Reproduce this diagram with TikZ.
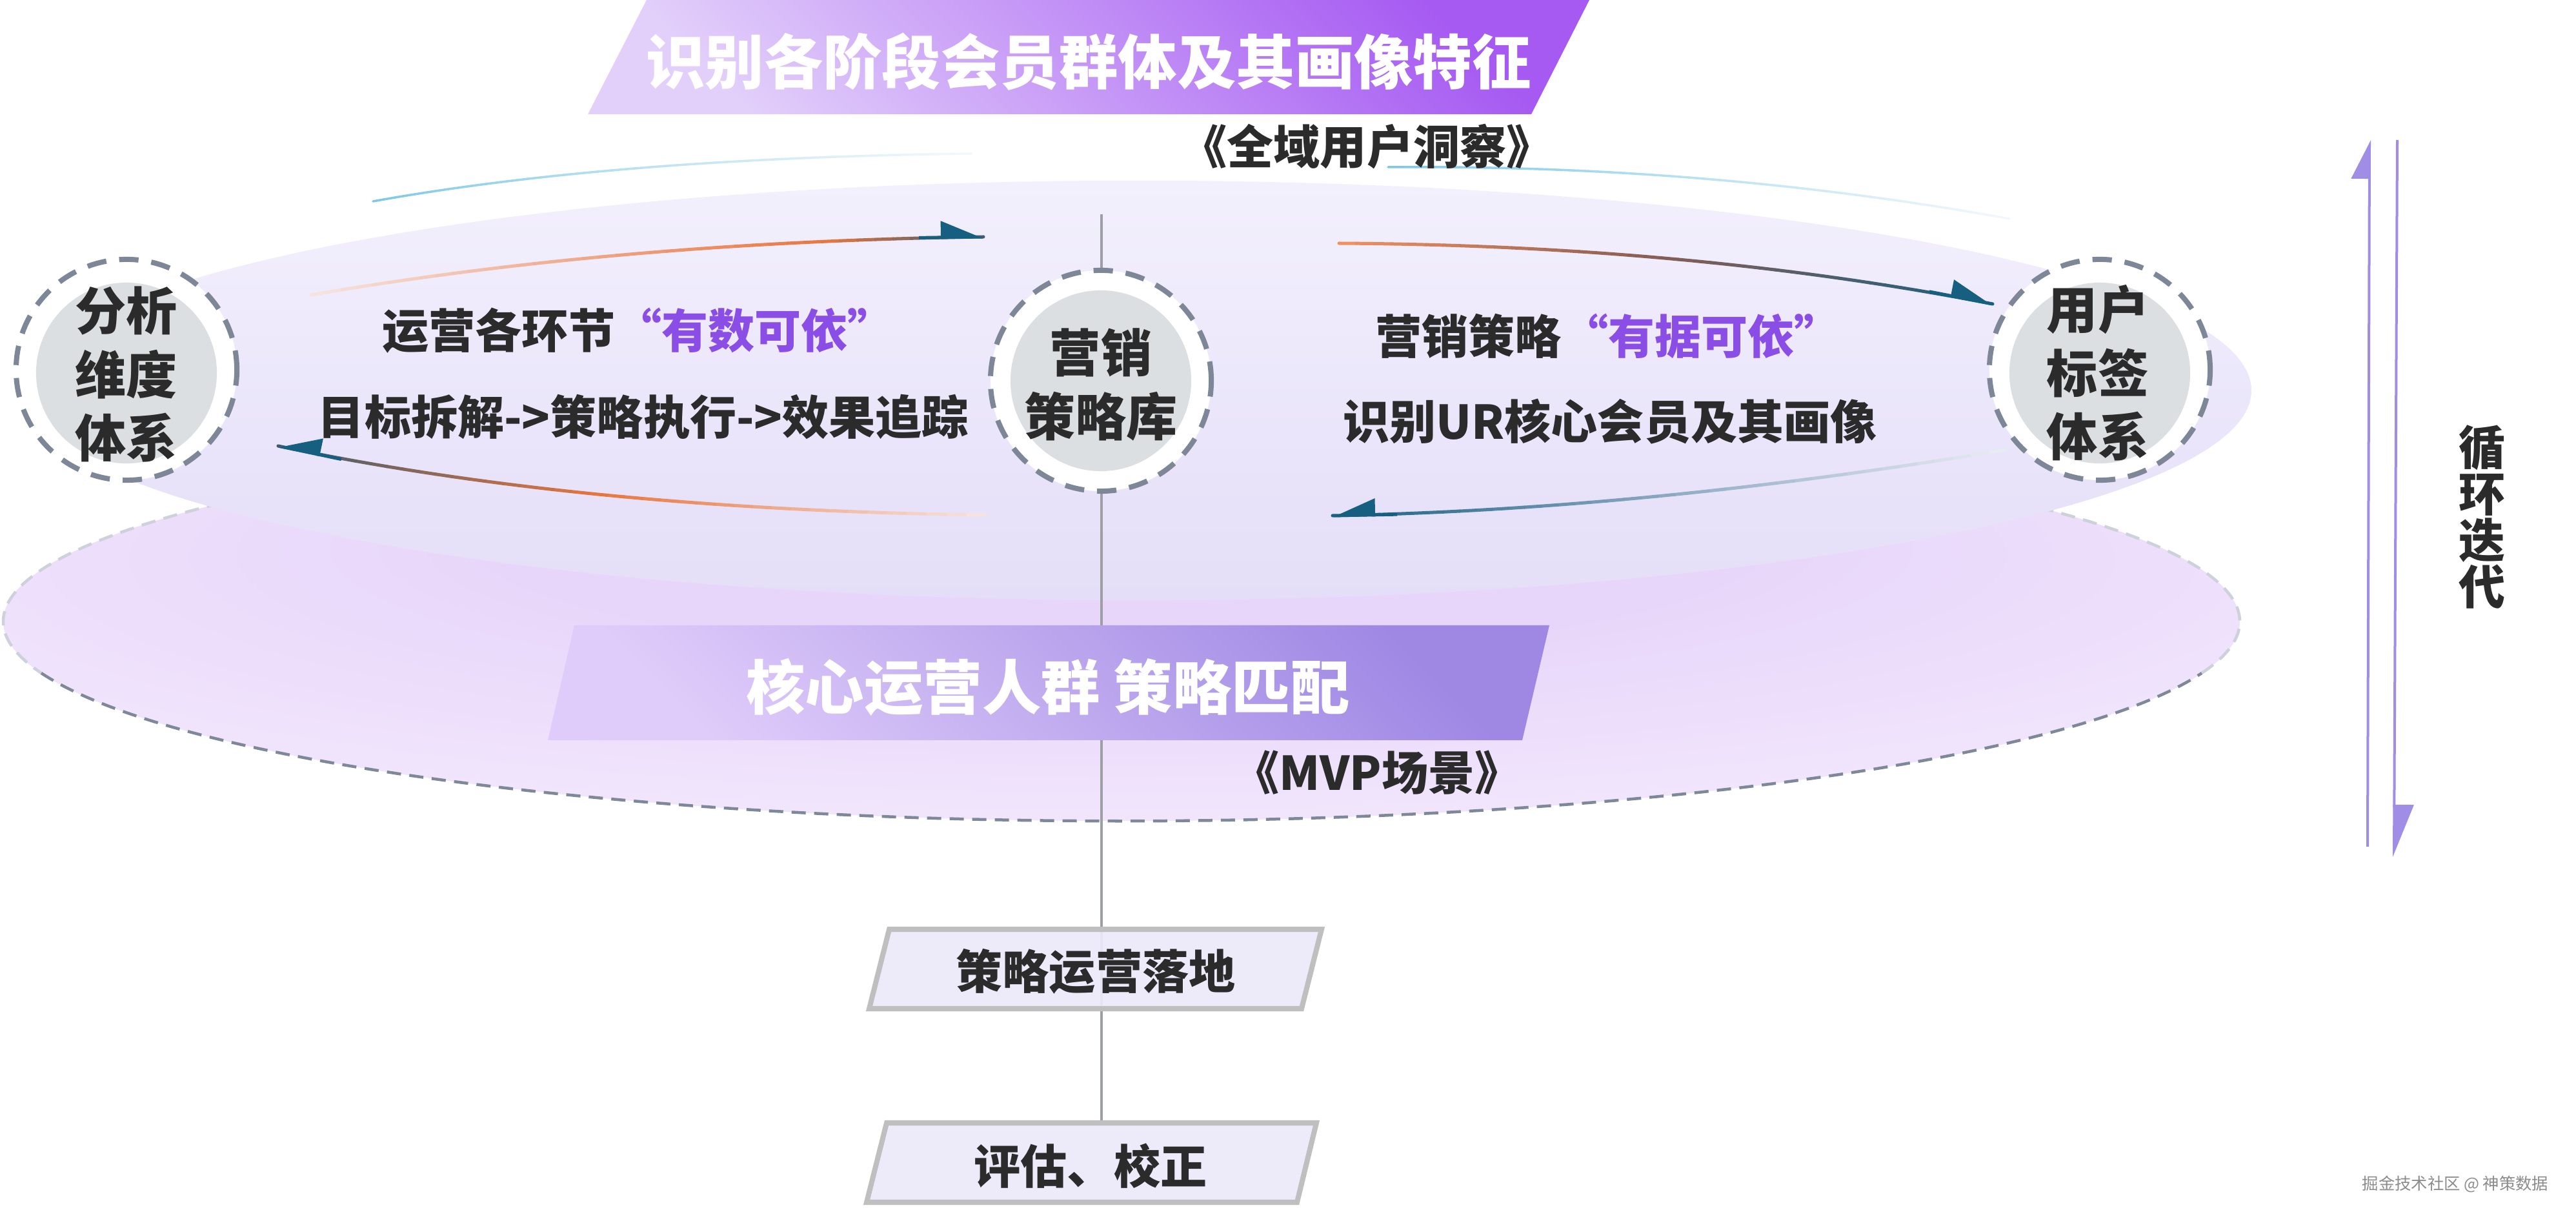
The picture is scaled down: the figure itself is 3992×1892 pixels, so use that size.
\documentclass[tikz,border=0pt]{standalone}
\usepackage{fontspec}
\newfontfamily\cjk{Noto Sans CJK SC}
\usetikzlibrary{calc,arrows.meta}
\definecolor{txtdark}{HTML}{2B2B2B}
\definecolor{qpurple}{HTML}{8A4DE6}
\definecolor{ringgray}{HTML}{7D8797}
\definecolor{innergray}{HTML}{DCDFE1}
\definecolor{linegray}{HTML}{9E9EA6}
\definecolor{boxborder}{HTML}{BFBFBF}
\definecolor{boxfill}{HTML}{ECE9FA}
\definecolor{vpurple}{HTML}{A08DE6}
\definecolor{arrowteal}{HTML}{175F80}
\definecolor{banlight}{HTML}{E2CFFA}
\definecolor{banmid}{HTML}{C18FF6}
\definecolor{bandark}{HTML}{A65AF2}
\definecolor{mbanlight}{HTML}{E0CCFA}
\definecolor{mbanmid}{HTML}{D2BDF6}
\definecolor{mbandark}{HTML}{9E88E4}
\definecolor{uetop}{HTML}{F3F0FD}
\definecolor{uebot}{HTML}{E4DEF8}
\definecolor{glowin}{HTML}{E8D6FA}
\definecolor{glowmid}{HTML}{F3E9FD}
\definecolor{glowout}{HTML}{FBF8FF}
\definecolor{dashdark}{HTML}{7E8898}
\definecolor{dashlight}{HTML}{CDD2DA}
% arrow gradient colours
\definecolor{pinkfade}{HTML}{F6E4E2}
\definecolor{orng}{HTML}{E8773F}
\definecolor{orngl}{HTML}{F0915F}
\definecolor{brownish}{HTML}{8A5E55}
\definecolor{tealgray}{HTML}{3A5A70}
\definecolor{bluefade}{HTML}{E9ECF4}
\definecolor{bluemid}{HTML}{8AA7C0}
\definecolor{skyb}{HTML}{7EC8E8}
\definecolor{skym}{HTML}{BCE2F2}
\definecolor{skyf}{HTML}{F4F8FD}
\definecolor{wmgray}{HTML}{8C8C8C}
\pgfdeclareradialshading{lowglow}{\pgfpoint{0bp}{14bp}}{color(0bp)=(glowin); color(14bp)=(glowin); color(34bp)=(glowmid); color(50bp)=(glowout)}

\newcommand\gradcurve[8]{%
\foreach \i in {0,...,39}{%
 \pgfmathsetmacro\ta{\i/40}%
 \pgfmathsetmacro\tb{(\i+1)/40}%
 \pgfmathsetmacro\tm{(\i+0.5)/40}%
 \path ($(#1)!\ta!(#2)$) coordinate (gq1) ($(#2)!\ta!(#3)$) coordinate (gq2);
 \path ($(gq1)!\ta!(gq2)$) coordinate (gpa);
 \path ($(#1)!\tb!(#2)$) coordinate (gq1) ($(#2)!\tb!(#3)$) coordinate (gq2);
 \path ($(gq1)!\tb!(gq2)$) coordinate (gpb);
 \ifdim\tm pt<#7pt
   \pgfmathtruncatemacro\pp{100*\tm/#7}%
   \colorlet{gcc}{#5!\pp!#4}%
 \else
   \pgfmathtruncatemacro\pp{100*(\tm-#7)/(1-#7)}%
   \colorlet{gcc}{#6!\pp!#5}%
 \fi
 \draw[gcc, line width=#8, line cap=round] (gpa) -- (gpb);
}}

\tikzset{
  txt/.style={inner sep=0pt, text=txtdark, font=\cjk\bfseries\fontsize{20.5}{25}\selectfont},
  whitetxt/.style={inner sep=0pt, text=white, font=\cjk\bfseries\fontsize{26}{30}\selectfont},
  circtxt/.style={inner sep=0pt, text=txtdark, align=center, font=\cjk\bfseries\fontsize{22.5}{28}\selectfont},
  ringc/.style={circle, minimum size=3.42cm, inner sep=0pt, fill=white, draw=ringgray, line width=0.08cm, dash pattern=on 0.3cm off 0.2cm},
  innerc/.style={circle, minimum size=2.8cm, inner sep=0pt, fill=innergray},
  boxshape/.style={draw=boxborder, line width=0.08cm, fill=boxfill, fill opacity=0.93},
  arrowtipL/.style={arrowteal, line width=0.05cm, -{Triangle[left, length=0.6cm, width=0.5cm]}},
  arrowtipR/.style={arrowteal, line width=0.05cm, -{Triangle[right, length=0.6cm, width=0.5cm]}},
  vline/.style={vpurple, line width=0.04cm},
}

\begin{document}
\begin{tikzpicture}[x=0.01cm,y=0.01cm]
\useasboundingbox[fill=white] (0,0) rectangle (3992,-1892);

% lower ellipse (MVP disc)
\path[shading=lowglow] (1738,-963) ellipse [x radius=17.32cm, y radius=3.09cm];
\draw[dashlight, line width=0.045cm, dash pattern=on 0.22cm off 0.13cm]
  (1738,-963) ++(140:17.32cm and 3.09cm) arc[start angle=140, end angle=195, x radius=17.32cm, y radius=3.09cm];
\draw[dashlight, line width=0.045cm, dash pattern=on 0.22cm off 0.13cm]
  (1738,-963) ++(345:17.32cm and 3.09cm) arc[start angle=345, end angle=400, x radius=17.32cm, y radius=3.09cm];
\draw[dashdark, line width=0.045cm, dash pattern=on 0.22cm off 0.13cm]
  (1738,-963) ++(195:17.32cm and 3.09cm) arc[start angle=195, end angle=345, x radius=17.32cm, y radius=3.09cm];

% upper ellipse (user insight disc)
\shade[top color=uetop, bottom color=uebot] (1763,-605) ellipse [x radius=17.25cm, y radius=3.25cm];

% faint blue arcs on top
\coordinate (b1S) at (578,-312); \coordinate (b1C) at (950,-245); \coordinate (b1E) at (1505,-238);
\coordinate (b2S) at (2151,-259); \coordinate (b2C) at (2650,-255); \coordinate (b2E) at (3114,-339);
\gradcurve{b1S}{b1C}{b1E}{skyb}{skym}{skyf}{0.5}{0.035cm}
\gradcurve{b2S}{b2C}{b2E}{skyb}{skym}{skyf}{0.5}{0.035cm}

% central vertical line
\coordinate (vtop) at (1707,-332);
\coordinate (b2top) at (1707,-1740);
\draw[linegray, line width=0.04cm] (vtop) -- (b2top);

% circles
\node[ringc] (ringL) at (196,-573) {};
\node[innerc] (innL) at (196,-578) {};
\node[circtxt] (tL) at (196,-580) {分析\\维度\\体系};
\node[ringc] (ringM) at (1706,-590) {};
\node[innerc] (innM) at (1706,-590) {};
\node[circtxt] (tM) at (1706,-596) {营销\\策略库};
\node[ringc] (ringR) at (3254,-573) {};
\node[innerc] (innR) at (3254,-578) {};
\node[circtxt] (tR) at (3251,-578) {用户\\标签\\体系};

% gradient arrows
\coordinate (ulS) at (482,-457); \coordinate (ulC) at (960,-375); \coordinate (ulE) at (1524,-367);
\coordinate (llS) at (1527,-798); \coordinate (llC) at (900,-790); \coordinate (llE) at (431,-691);
\coordinate (urS) at (2075,-377); \coordinate (urC) at (2620,-380); \coordinate (urE) at (3088,-471);
\coordinate (lrS) at (3108,-697); \coordinate (lrC) at (2550,-790); \coordinate (lrE) at (2065,-799);
\gradcurve{ulS}{ulC}{ulE}{pinkfade}{orng}{tealgray}{0.78}{0.05cm}
\gradcurve{llS}{llC}{llE}{pinkfade}{orng}{tealgray}{0.5}{0.05cm}
\gradcurve{urS}{urC}{urE}{orngl}{brownish}{arrowteal}{0.45}{0.05cm}
\gradcurve{lrS}{lrC}{lrE}{bluefade}{bluemid}{arrowteal}{0.5}{0.05cm}
\draw[arrowtipL] ($(ulE)!1cm!(ulC)$) -- (ulE);
\draw[arrowtipR] ($(llE)!1cm!(llC)$) -- (llE);
\draw[arrowtipL] ($(urE)!1cm!(urC)$) -- (urE);
\draw[arrowtipR] ($(lrE)!1cm!(lrC)$) -- (lrE);

% texts on the disc
\node[txt, anchor=west] (opsA) at (592,-512) {运营各环节{\color{qpurple}“有数可依”}};
\node[txt] (opsB) at (997,-646) {目标拆解->策略执行->效果追踪};
\node[txt, anchor=west] (mktA) at (2131,-521) {营销策略{\color{qpurple}“有据可依”}};
\node[txt] (mktB) at (2495,-653) {识别UR核心会员及其画像};
\node[txt] (insight) at (2118,-227) {《全域用户洞察》};

% middle banner
\shade[bottom color=mbanlight, middle color=mbanmid, top color=mbandark, shading angle=-45]
  (890,-969) -- (2401,-969) -- (2359,-1147) -- (849,-1147) -- cycle;
\node[whitetxt] (core) at (1624,-1065) {核心运营人群 策略匹配};
\node[txt] (mvp) at (2134,-1197) {《MVP场景》};

% top banner
\shade[bottom color=banlight, middle color=banmid, top color=bandark, shading angle=-45]
  (1002,0) -- (2463,0) -- (2373,-177) -- (911,-177) -- cycle;
\node[whitetxt] (title) at (1687,-96) {识别各阶段会员群体及其画像特征};

% lower boxes
\path[boxshape] (1378,-1440) -- (2048,-1440) -- (2017,-1563) -- (1347,-1563) -- cycle;
\node[txt] (land) at (1698,-1505) {策略运营落地};
\path[boxshape] (1374,-1740) -- (2040,-1740) -- (2010,-1863) -- (1343,-1863) -- cycle;
\node[txt] (eval) at (1690,-1807) {评估、校正};

% iteration arrows
\coordinate (upB) at (3669,-1312); \coordinate (upT) at (3672,-217);
\coordinate (dnT) at (3715,-217); \coordinate (dnB) at (3710,-1328);
\draw[vline, -{Triangle[left, length=0.56cm, width=0.56cm]}] (upB) -- (upT);
\draw[vline, -{Triangle[left, length=0.76cm, width=0.6cm]}] (dnT) -- (dnB);
\node[txt, align=center, font=\cjk\bfseries\fontsize{20.5}{20.5}\selectfont] (loop) at (3847,-801) {循\\环\\迭\\代};

% watermark
\node[inner sep=0pt, text=wmgray, font=\cjk\fontsize{7.2}{8}\selectfont] (wm) at (3805,-1835) {掘金技术社区 @ 神策数据};
\end{tikzpicture}
\end{document}
